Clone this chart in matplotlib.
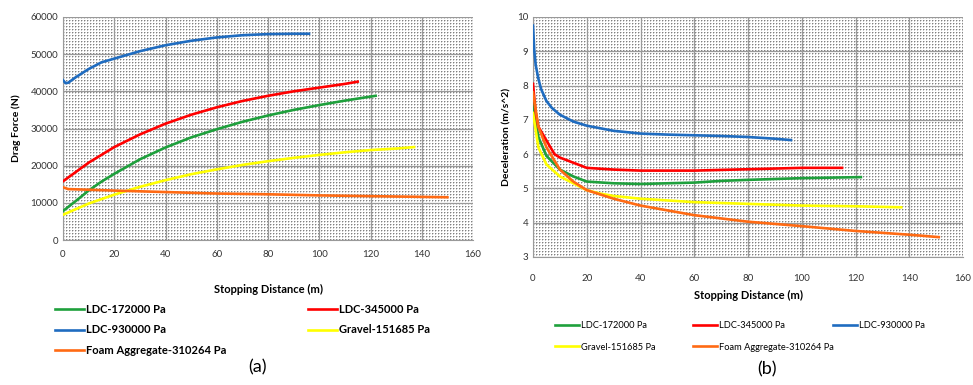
import numpy as np
import matplotlib.pyplot as plt

plt.rcParams['font.family'] = ['Lato', 'DejaVu Sans']

labels = ['LDC-172000 Pa', 'LDC-345000 Pa', 'LDC-930000 Pa',
          'Gravel-151685 Pa', 'Foam Aggregate-310264 Pa']
colors = ['#1ea03c', '#ff0000', '#1f6cc0', '#ffff00', '#ff6a13']

# (a) drag force
drag_x_green = [0, 5, 10, 15, 20, 30, 40, 50, 60, 70, 80, 90, 100, 110, 122]
drag_y_green = [7800, 10500, 13300, 15700, 17800, 21700, 24900, 27600, 29800,
                31800, 33500, 35000, 36300, 37500, 38800]
drag_x_red = [0, 10, 20, 30, 40, 50, 60, 70, 80, 90, 100, 110, 115]
drag_y_red = [15800, 20800, 25000, 28400, 31300, 33700, 35700, 37400, 38800,
              40000, 41000, 42000, 42600]
drag_x_blue = [0, 1, 2, 5, 10, 15, 20, 30, 40, 50, 60, 70, 80, 90, 96]
drag_y_blue = [43000, 42200, 42300, 43800, 46000, 47800, 48800, 50800, 52400,
               53600, 54500, 55100, 55400, 55500, 55500]
drag_x_yellow = [0, 10, 20, 30, 40, 50, 60, 70, 80, 90, 100, 110, 120, 130, 137]
drag_y_yellow = [6800, 9800, 12200, 14300, 16100, 17700, 19000, 20200, 21200,
                 22100, 22900, 23600, 24200, 24600, 25000]
drag_x_orange = [0, 2, 20, 40, 60, 80, 100, 120, 150]
drag_y_orange = [14200, 13700, 13300, 12900, 12500, 12300, 12000, 11800, 11500]

# (b) deceleration
dec_x_green = [0, 2, 5, 10, 15, 20, 30, 40, 50, 60, 70, 80, 100, 122]
dec_y_green = [7.5, 6.5, 5.95, 5.55, 5.35, 5.2, 5.15, 5.13, 5.15, 5.17, 5.22,
               5.25, 5.3, 5.33]
dec_x_red = [0, 1, 2, 5, 8, 10, 15, 20, 30, 40, 60, 80, 100, 115]
dec_y_red = [8.05, 7.2, 6.8, 6.4, 6.0, 5.9, 5.75, 5.6, 5.55, 5.52, 5.52, 5.56,
             5.6, 5.6]
dec_x_blue = [0, 0.5, 1, 2, 3, 5, 7, 10, 15, 20, 30, 40, 50, 60, 70, 80, 90, 96]
dec_y_blue = [9.75, 9.0, 8.6, 8.2, 7.9, 7.55, 7.35, 7.15, 6.95, 6.83, 6.68, 6.6,
              6.57, 6.55, 6.53, 6.5, 6.45, 6.41]
dec_x_yellow = [0, 2, 5, 10, 15, 20, 25, 30, 40, 60, 80, 100, 120, 137]
dec_y_yellow = [7.2, 6.2, 5.7, 5.35, 5.15, 4.95, 4.85, 4.78, 4.7, 4.6, 4.55,
                4.5, 4.48, 4.45]
dec_x_orange = [0, 2, 5, 10, 15, 20, 30, 40, 60, 80, 100, 120, 140, 151]
dec_y_orange = [7.8, 6.8, 6.2, 5.55, 5.2, 4.95, 4.7, 4.5, 4.22, 4.03, 3.9, 3.76,
                3.65, 3.58]

W, H = 973, 385


def dotted_bg(ax, wpx, hpx):
    # dot texture like the Excel pattern fill
    tex = np.ones((hpx, wpx))
    tex[0::3, 0::3] = 0.5
    tex[1::3, 0::3] = 0.8
    tex[0::3, 1::3] = 0.8
    ax.imshow(tex, cmap='gray', vmin=0, vmax=1, extent=(0, 1, 0, 1),
              transform=ax.transAxes, aspect='auto', interpolation='nearest',
              zorder=0.1)
    ax.grid(True, color='#999999', lw=0.9)
    ax.set_axisbelow(True)
    for s in ax.spines.values():
        s.set_visible(False)
    ax.spines['left'].set_visible(True)
    ax.spines['bottom'].set_visible(True)
    ax.spines['left'].set_color('#999999')
    ax.spines['bottom'].set_color('#999999')
    ax.tick_params(length=0, labelsize=7, colors='#333333')


fig = plt.figure(figsize=(W / 100, H / 100), dpi=100)
ax1 = fig.add_axes([63 / W, 1 - 240 / H, 410 / W, 223 / H])
ax2 = fig.add_axes([533 / W, 1 - 257 / H, 430 / W, 240 / H])

drag = [(drag_x_green, drag_y_green), (drag_x_red, drag_y_red),
        (drag_x_blue, drag_y_blue), (drag_x_yellow, drag_y_yellow),
        (drag_x_orange, drag_y_orange)]
dec = [(dec_x_green, dec_y_green), (dec_x_red, dec_y_red),
       (dec_x_blue, dec_y_blue), (dec_x_yellow, dec_y_yellow),
       (dec_x_orange, dec_y_orange)]

dotted_bg(ax1, 410, 223)
dotted_bg(ax2, 430, 240)

h1 = [ax1.plot(x, y, color=c, lw=1.9, zorder=3)[0]
      for (x, y), c in zip(drag, colors)]
h2 = [ax2.plot(x, y, color=c, lw=1.9, zorder=3)[0]
      for (x, y), c in zip(dec, colors)]

ax1.set_xlim(0, 160)
ax1.set_ylim(0, 60000)
ax1.set_xticks(np.arange(0, 161, 20))
ax1.set_yticks(np.arange(0, 60001, 10000))
ax1.set_ylabel('Drag Force (N)', fontsize=7.5, fontweight='bold', labelpad=7)
ax1.set_xlabel('Stopping Distance (m)', fontsize=8, fontweight='bold',
               labelpad=18)
ax1.tick_params(axis='x', pad=7)

ax2.set_xlim(0, 160)
ax2.set_ylim(3, 10)
ax2.set_xticks(np.arange(0, 161, 20))
ax2.set_yticks(np.arange(3, 10.1, 1))
ax2.set_ylabel('Deceleration (m/s^2)', fontsize=7.5, fontweight='bold')
ax2.set_xlabel('Stopping Distance (m)', fontsize=8, fontweight='bold',
               labelpad=5)
ax2.tick_params(axis='x', pad=12)


def col_legend(idx, handles, x, y, prop, spacing):
    fig.legend([handles[i] for i in idx], [labels[i] for i in idx],
               loc='upper left', bbox_to_anchor=(x / W, 1 - y / H),
               frameon=False, prop=prop, handlelength=2.6,
               handletextpad=0.15, labelspacing=spacing, borderaxespad=0,
               borderpad=0)


# legend (a): 2 columns, bold text
pa = {'size': 8, 'weight': 'bold'}
col_legend([0, 2, 4], h1, 55, 304, pa, 0.85)
col_legend([1, 3], h1, 308, 304, pa, 0.85)

# legend (b): 3 columns
pb = {'size': 6.7}
col_legend([0, 3], h2, 555, 321, pb, 1.35)
col_legend([1, 4], h2, 693, 321, pb, 1.35)
col_legend([2], h2, 833, 321, pb, 1.35)

fig.text(0.265, 0.025, '(a)', fontsize=13, ha='center', va='bottom')
fig.text(0.788, 0.02, '(b)', fontsize=13, ha='center', va='bottom')

fig.savefig('out.png', dpi=100)
